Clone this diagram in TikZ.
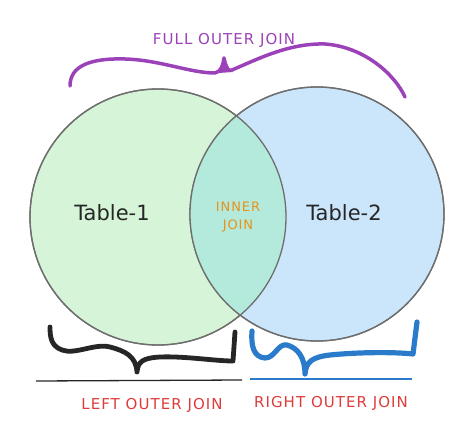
\documentclass[tikz,border=0pt]{standalone}
\usepackage{fontspec}
\setmainfont{DejaVu Sans}
\newfontfamily\handfont[LetterSpace=7]{DejaVu Sans}
\begin{document}
\begin{tikzpicture}[x=1pt,y=-1pt,
  venn/.style={circle,draw=edgegray,line width=1.3pt,inner sep=0pt},
  lbl/.style={font=\handfont\fontsize{15}{18}\selectfont},
  tbl/.style={font=\fontsize{21}{24}\selectfont,text=black!85},
  brace/.style={line cap=round,line join=round}]
\definecolor{edgegray}{HTML}{6E6E6E}
\definecolor{lgreen}{HTML}{D6F5D8}
\definecolor{lblue}{HTML}{CBE5FB}
\definecolor{lmix}{HTML}{B4EADB}
\definecolor{purp}{HTML}{9C42B8}
\definecolor{xred}{HTML}{E03B3B}
\definecolor{xorange}{HTML}{E8921A}
\definecolor{xblue}{HTML}{2A7CCB}
\definecolor{xblack}{HTML}{262626}
\useasboundingbox (0,0) rectangle (474,441);
% circles
\node[venn,fill=lgreen,minimum size=256pt] (t1) at (158,217) {};
\node[venn,fill=lblue,minimum size=254pt] (t2) at (317,214) {};
\begin{scope}
  \clip (158,217) circle (128);
  \fill[lmix] (317,214) circle (127);
\end{scope}
\draw[edgegray,line width=1.3pt] (t1.center) circle (128);
\draw[edgegray,line width=1.3pt] (t2.center) circle (127);
% texts
\node[tbl] (lt1) at (112,213) {Table-1};
\node[tbl] (lt2) at (344,213) {Table-2};
\node[text=xorange,align=center,font=\handfont\fontsize{13}{18}\selectfont] (inner) at (238,217) {INNER\\JOIN};
\node[lbl,text=purp] (full) at (224,40) {FULL OUTER JOIN};
\node[lbl,text=xred] (left) at (152,405) {LEFT OUTER JOIN};
\node[lbl,text=xred] (right) at (331,403) {RIGHT OUTER JOIN};
% purple brace
\draw[brace,purp,line width=3.5pt] (70,86) .. controls (70,66) and (90,58) .. (125,59)
  .. controls (160,60) and (190,73) .. (215,73)
  .. controls (221,72) and (223,65) .. (224,58)
  .. controls (226,66) and (227,72) .. (232,70)
  .. controls (260,58) and (290,43) .. (325,44)
  .. controls (365,47) and (395,75) .. (405,97);
\fill[purp] (219,73) .. controls (222,68) and (223,62) .. (224,56)
  .. controls (226,62) and (228,68) .. (233,72) -- cycle;
% black brace
\draw[brace,xblack,line width=4.8pt] (50,327) .. controls (50,337) and (51,346) .. (62,350)
  .. controls (75,355) and (95,343) .. (110,347)
  .. controls (125,351) and (136,356) .. (137,372)
  .. controls (138,362) and (142,358) .. (160,357)
  .. controls (185,356) and (215,361) .. (233,361)
  -- (235,332);
\draw[xblack,line width=1.3pt] (36,381) -- (242,380);
% blue brace
\draw[brace,xblue,line width=5.2pt] (252,331) .. controls (251,345) and (253,357) .. (265,358)
  .. controls (275,358) and (278,343) .. (287,345)
  .. controls (298,348) and (305,358) .. (305,374)
  .. controls (306,362) and (312,357) .. (330,355)
  .. controls (360,352) and (395,352) .. (413,354)
  -- (417,322);
\draw[xblue,line width=1.3pt] (250,379) -- (412,379);
\end{tikzpicture}
\end{document}
